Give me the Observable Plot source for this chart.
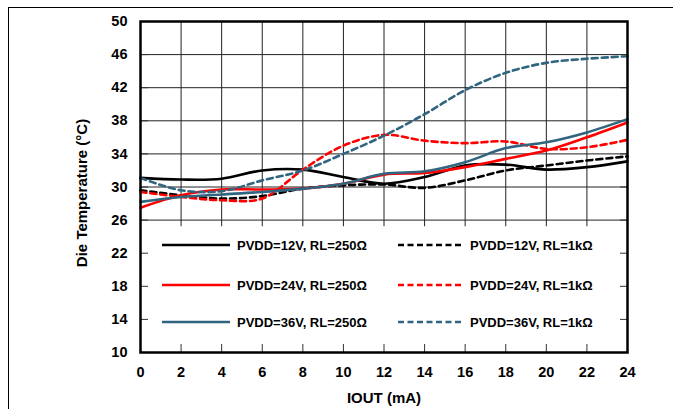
<!DOCTYPE html>
<html>
<head>
<meta charset="utf-8">
<script src="https://cdn.jsdelivr.net/npm/d3@7"></script>
<script src="https://cdn.jsdelivr.net/npm/@observablehq/plot@0.6"></script>
<style>
  html, body { margin: 0; padding: 0; background: #fff; }
  #wrap { position: relative; width: 673px; height: 409px; overflow: hidden; font-family: "Liberation Sans", Arial, sans-serif; }
  #outer { position: absolute; left: 8px; top: 7px; width: 800px; height: 600px; border-top: 1.5px solid #000; border-left: 1.5px solid #000; }
  #chart { position: absolute; left: 0; top: 0; }
  .leg { position: absolute; display: flex; align-items: center; font-weight: bold; font-size: 13px; color: #000; white-space: nowrap; }
  .leg svg { margin-right: 7px; }
</style>
</head>
<body>
<div id="wrap"><div id="outer"></div><div id="chart"></div></div>
<script>
// ---- data ----
const iout = [0, 2, 4, 6, 8, 10, 12, 14, 16, 18, 20, 22, 24];
const v12_250 = [31.1, 30.9, 31.0, 32.0, 32.1, 31.2, 30.4, 31.2, 32.6, 32.7, 32.1, 32.4, 33.1];
const v12_1k  = [29.6, 29.0, 28.6, 28.9, 29.8, 30.2, 30.3, 29.9, 30.8, 32.0, 32.6, 33.2, 33.7];
const v24_250 = [27.5, 29.0, 29.7, 29.7, 29.8, 30.4, 31.5, 31.7, 32.4, 33.4, 34.4, 36.0, 37.8];
const v24_1k  = [29.4, 28.8, 28.4, 28.6, 32.1, 35.0, 36.3, 35.6, 35.3, 35.5, 34.6, 34.8, 35.7];
const v36_250 = [28.2, 28.8, 29.1, 29.4, 29.8, 30.4, 31.6, 31.9, 33.0, 34.7, 35.4, 36.6, 38.2];
const v36_1k  = [31.1, 29.6, 29.5, 30.8, 32.0, 34.0, 36.2, 38.8, 41.7, 43.8, 45.0, 45.5, 45.8];
const seriesNames = ["PVDD=12V, RL=250Ω", "PVDD=12V, RL=1kΩ", "PVDD=24V, RL=250Ω", "PVDD=24V, RL=1kΩ", "PVDD=36V, RL=250Ω", "PVDD=36V, RL=1kΩ"];
const seriesValues = [v12_250, v12_1k, v24_250, v24_1k, v36_250, v36_1k];
const seriesColors = ["#000000", "#000000", "#ff0000", "#ff0000", "#31657f", "#31657f"];
const seriesDashed = [false, true, false, true, false, true];
const xTicks = [0, 2, 4, 6, 8, 10, 12, 14, 16, 18, 20, 22, 24];
const yTicks = [10, 14, 18, 22, 26, 30, 34, 38, 42, 46, 50];
const yGridTicks = [26, 30, 34, 38, 42, 46];
const gridFloor = 25.2; // legend panel top (data units)

const W = 673, H = 409;
const mL = 140, mR = 46, mT = 21, mB = 57;

const marks = [
  Plot.ruleY(yGridTicks, {stroke: "#222", strokeWidth: 1}),
  Plot.ruleX(xTicks.slice(1, -1), {y1: gridFloor, y2: 50, stroke: "#222", strokeWidth: 1}),
  // inside ticks
  Plot.axisX({ticks: xTicks, tickSize: 8, dy: -8, tickFormat: () => "", label: null, stroke: "#333"}),
  Plot.axisY({anchor: "left", ticks: yTicks, tickSize: 8, dx: 8, tickFormat: () => "", label: null, stroke: "#333"}),
  Plot.axisY({anchor: "right", ticks: yTicks, tickSize: 8, dx: -8, tickFormat: () => "", label: null, stroke: "#333"}),
  // tick labels
  Plot.axisX({ticks: xTicks, tickSize: 0, tickPadding: 14, label: null, fontSize: 14.5, fontWeight: "bold"}),
  Plot.axisY({anchor: "left", ticks: yTicks, tickSize: 0, tickPadding: 13, label: null, fontSize: 14.5, fontWeight: "bold"}),
  Plot.text(["IOUT (mA)"], {frameAnchor: "bottom", dy: 46, fontSize: 15, fontWeight: "bold", lineAnchor: "middle"}),
  Plot.text(["Die Temperature (°C)"], {frameAnchor: "left", dx: -58, dy: 6, rotate: -90, fontSize: 15, fontWeight: "bold", lineAnchor: "middle", textAnchor: "middle"})
];
seriesValues.forEach((vals, i) => {
  const data = iout.map((x, j) => ({x, y: vals[j]}));
  marks.push(Plot.line(data, {
    x: "x", y: "y", curve: "catmull-rom",
    stroke: seriesColors[i], strokeWidth: 2.6,
    strokeDasharray: seriesDashed[i] ? "6,4" : null
  }));
});
marks.push(Plot.frame({stroke: "#000", strokeWidth: 2.5}));

const chart = Plot.plot({
  width: W, height: H,
  marginLeft: mL, marginRight: mR, marginTop: mT, marginBottom: mB,
  x: {domain: [0, 24], axis: null},
  y: {domain: [10, 50], axis: null},
  style: {fontFamily: "'Liberation Sans', Arial, sans-serif", color: "#000", background: "transparent"},
  marks
});
document.getElementById("chart").appendChild(chart);

// legend (HTML overlay inside plot area)
const legRows = [245, 285, 322];
const legCols = [162, 398];
seriesNames.forEach((name, i) => {
  const row = Math.floor(i / 2), col = i % 2;
  const d = document.createElement("div");
  d.className = "leg";
  d.style.left = legCols[col] + "px";
  d.style.top = (legRows[row] - 8) + "px";
  d.style.height = "16px";
  const len = col === 0 ? 68 : 65;
  d.innerHTML = `<svg width="${len}" height="6"><line x1="0" x2="${len}" y1="3" y2="3" stroke="${seriesColors[i]}" stroke-width="2.6" ${seriesDashed[i] ? 'stroke-dasharray="6,3.5"' : ''}/></svg><span>${name}</span>`;
  document.getElementById("wrap").appendChild(d);
});
</script>
</body>
</html>
